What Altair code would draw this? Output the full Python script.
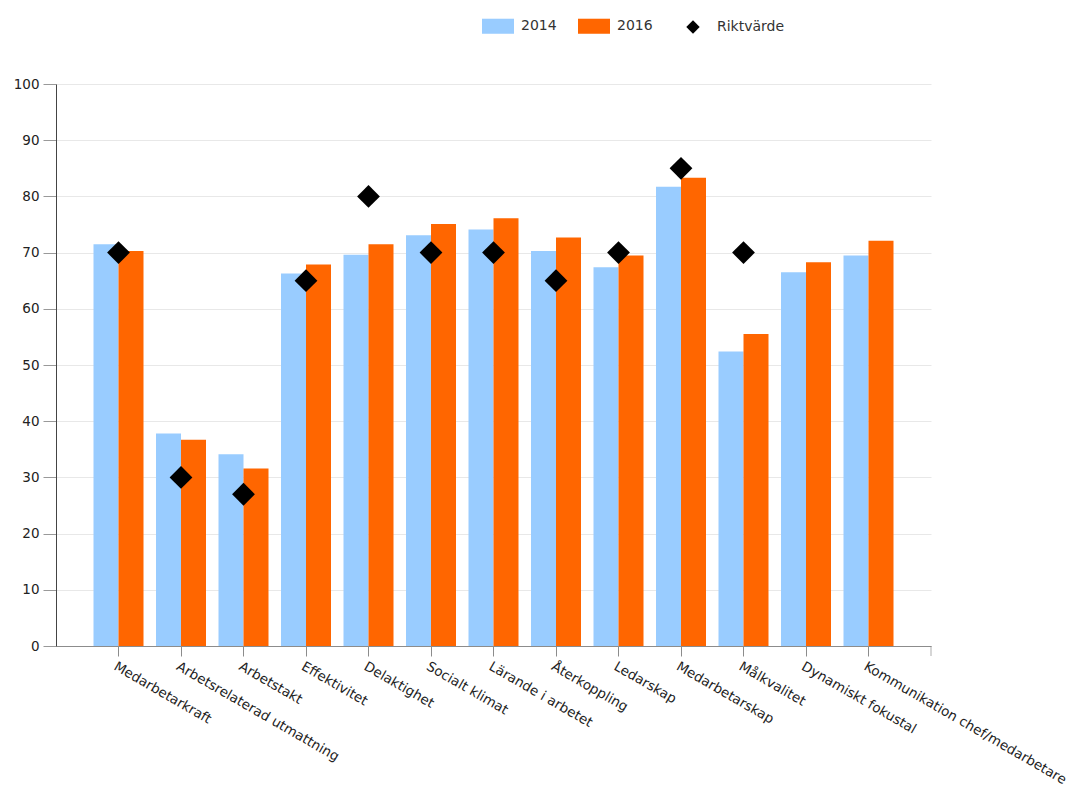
import altair as alt
import pandas as pd

categories = ["Medarbetarkraft", "Arbetsrelaterad utmattning", "Arbetstakt", "Effektivitet",
              "Delaktighet", "Socialt klimat", "Lärande i arbetet", "Återkoppling", "Ledarskap",
              "Medarbetarskap", "Målkvalitet", "Dynamiskt fokustal", "Kommunikation chef/medarbetare"]
values_2014 = [71.5, 37.8, 34.1, 66.3, 69.6, 73.1, 74.1, 70.3, 67.4, 81.7, 52.4, 66.5, 69.5]
values_2016 = [70.3, 36.7, 31.6, 67.9, 71.5, 75.1, 76.1, 72.7, 69.5, 83.3, 55.5, 68.3, 72.1]
target = [70, 30, 27, 65, 80, 70, 70, 65, 70, 85, 70, None, None]
bar_series = ["2014", "2016"]
bar_colors = ["#99ccff", "#ff6600"]
target_name = "Riktvärde"
y_ticks = list(range(0, 101, 10))

bars_df = pd.DataFrame(
    [{"category": c, "series": "2014", "value": v} for c, v in zip(categories, values_2014)]
    + [{"category": c, "series": "2016", "value": v} for c, v in zip(categories, values_2016)]
)
target_df = pd.DataFrame(
    [{"category": c, "series": target_name, "value": v} for c, v in zip(categories, target) if v is not None]
)

W, H = 875, 562
FONT = "DejaVu Sans"
RECT = "M-1,-0.47H1V0.47H-1Z"

x_enc = alt.X(
    "category:N", sort=categories, title=None,
    scale=alt.Scale(paddingInner=0.2, paddingOuter=0.6),
    axis=alt.Axis(labelAngle=30, labelAlign="left", labelBaseline="top", labelFontSize=13.5,
                  labelFont=FONT, labelColor="#222222", labelPadding=3, labelLimit=0,
                  tickSize=10, tickColor="#8c8c8c", domainColor="#8c8c8c", grid=False,
                  labelOverlap=False),
)
y_enc = alt.Y(
    "value:Q", title=None,
    scale=alt.Scale(domain=[0, 100], nice=False),
    axis=alt.Axis(values=y_ticks, labelFontSize=13.5, labelFont=FONT, labelColor="#222222",
                  tickSize=13, tickColor="#999999", labelPadding=4, domainColor="#444444",
                  gridColor="#e8e8e8", grid=True),
)

color_legend = alt.Legend(
    orient="none", legendX=426, legendY=-74, direction="horizontal", title=None,
    symbolType=RECT, symbolSize=1024, labelFontSize=14, labelFont=FONT, labelColor="#333333",
    labelOffset=7, columnPadding=21, symbolStrokeWidth=0, symbolOpacity=1, padding=0,
)
shape_legend = alt.Legend(
    orient="none", legendX=630, legendY=-64, direction="horizontal", title=None,
    symbolSize=180, labelFontSize=14, labelFont=FONT, labelColor="#333333",
    labelOffset=17, symbolStrokeWidth=0, symbolOpacity=1, symbolFillColor="#000000", padding=0,
)

bars = alt.Chart(bars_df).mark_bar().encode(
    x=x_enc,
    y=y_enc,
    xOffset=alt.XOffset("series:N", scale=alt.Scale(domain=bar_series, paddingInner=0, paddingOuter=0)),
    color=alt.Color("series:N", scale=alt.Scale(domain=bar_series, range=bar_colors), legend=color_legend),
)

shape_layer = alt.Chart(target_df).mark_point(filled=True, size=520, opacity=1, color="#000000").encode(
    x=alt.X("category:N", sort=categories),
    y="value:Q",
    shape=alt.Shape("series:N", scale=alt.Scale(domain=[target_name], range=["diamond"]), legend=shape_legend),
)

end_tick = alt.Chart(pd.DataFrame({"a": [0]})).mark_tick(
    color="#8c8c8c", orient="vertical", size=10, thickness=1
).encode(x=alt.value(W), y=alt.value(H + 5))

chart = alt.layer(bars, shape_layer, end_tick).properties(
    width=W, height=H,
    background="white",
    autosize=alt.AutoSizeParams(type="none"),
    padding={"left": 56, "top": 84, "right": 155, "bottom": 146},
).configure_view(strokeWidth=0, stroke=None)

chart.save("out.html", embed_options={"renderer": "svg", "actions": False})
